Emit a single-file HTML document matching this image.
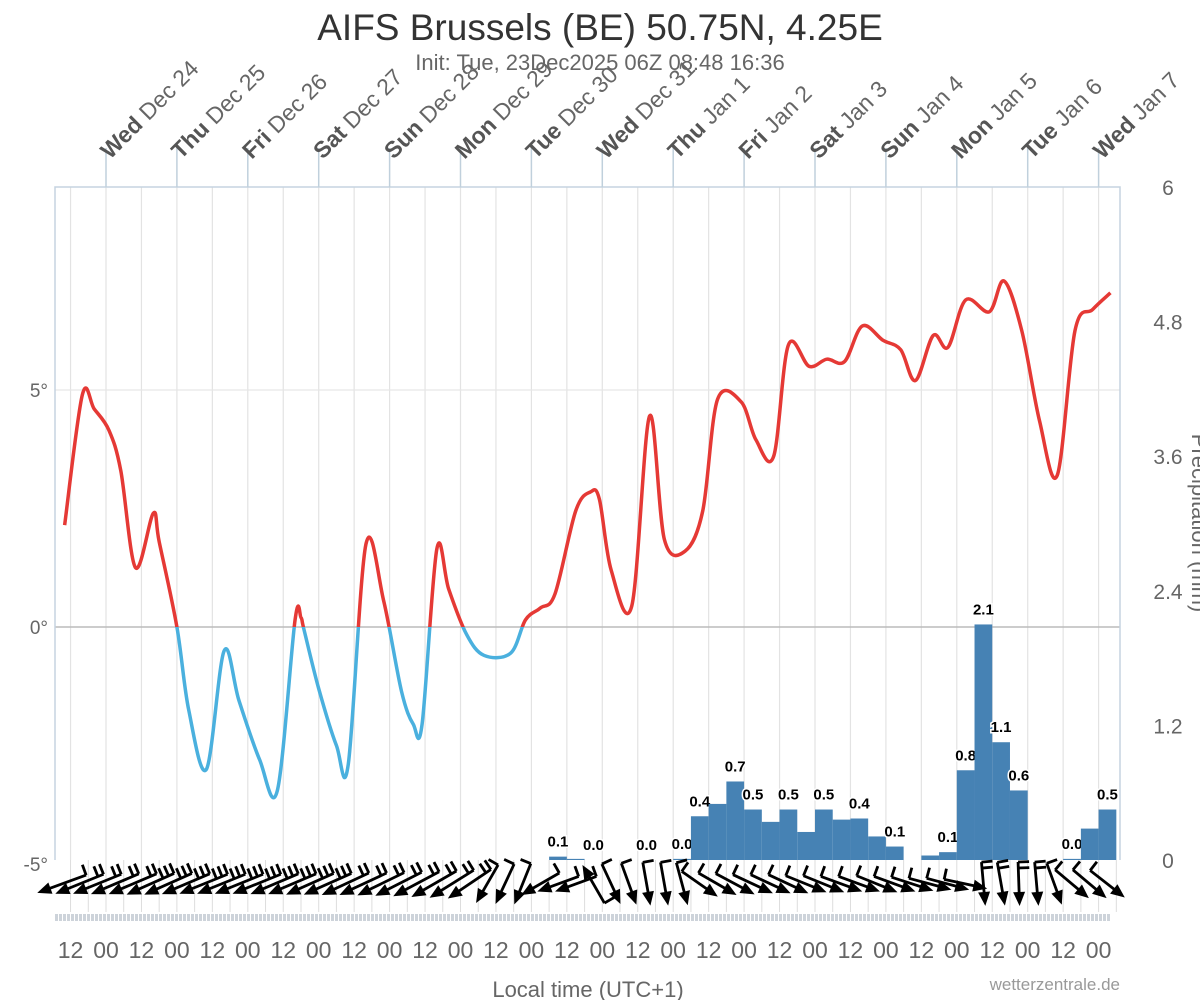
<!DOCTYPE html>
<html><head><meta charset="utf-8"><style>
html,body{margin:0;padding:0;background:#fff;}
svg{display:block;font-family:"Liberation Sans","DejaVu Sans",sans-serif;}
</style></head><body>
<svg id="chart" width="1200" height="1000" viewBox="0 0 1200 1000">
<text x="600" y="40" text-anchor="middle" font-size="37" fill="#333">AIFS Brussels (BE) 50.75N, 4.25E</text>
<text x="600" y="70" text-anchor="middle" font-size="22" fill="#666">Init: Tue, 23Dec2025 06Z 08:48 16:36</text>
<g id="grid"></g>
<g id="bars"></g>
<g id="temp"></g>
<g id="wind"></g>
<g id="axes"></g>
<text x="588" y="997" text-anchor="middle" font-size="22" fill="#666">Local time (UTC+1)</text>
<text x="1120" y="990" text-anchor="end" font-size="17" fill="#999">wetterzentrale.de</text>
<text transform="translate(1192,523) rotate(90)" text-anchor="middle" font-size="22" fill="#666">Precipitation (mm)</text>
</svg>
<script>
const dayLabels=["Wed|Dec 24","Thu|Dec 25","Fri|Dec 26","Sat|Dec 27","Sun|Dec 28","Mon|Dec 29","Tue|Dec 30","Wed|Dec 31","Thu|Jan 1","Fri|Jan 2","Sat|Jan 3","Sun|Jan 4","Mon|Jan 5","Tue|Jan 6","Wed|Jan 7"];
const tempHours=[-14,-8,-4,1,5,10,16,18,24,28,34,40,45,52,58,64,66,67,72,78,82,88,94,100,104,107,112,116,122,128,137,142,147,152,159,164,167,171,178,184,189,196,202,207,215,220,226,231,238,244,250,256,263,269,274,280,285,291,299,304,310,316,322,328,334,340];
const tempValues=[2.15,4.9,4.6,4.15,3.3,1.25,2.4,1.8,0,-1.75,-3.0,-0.5,-1.55,-2.8,-3.45,0.15,0.2,-0.05,-1.3,-2.5,-2.9,1.75,0.55,-1.35,-2.05,-2.05,1.65,0.8,-0.15,-0.6,-0.55,0.15,0.4,0.7,2.45,2.85,2.7,1.2,0.45,4.45,1.85,1.6,2.45,4.8,4.75,3.95,3.6,5.95,5.5,5.65,5.6,6.35,6.05,5.85,5.2,6.15,5.9,6.9,6.65,7.3,6.25,4.35,3.2,6.25,6.7,7.05];
const precipStart=150;
const precipValues=[0.03,0.01,0,0,0,0,0,0.01,0.39,0.5,0.7,0.45,0.34,0.45,0.25,0.45,0.36,0.37,0.21,0.12,0,0.04,0.07,0.8,2.1,1.05,0.62,0,0,0.01,0.28,0.45];
const precipLabels=["0.1","","0.0","","","0.0","","0.0","0.4","","0.7","0.5","","0.5","","0.5","","0.4","","0.1","","","0.1","0.8","2.1","1.1","0.6","","","0.0","","0.5"];
const windStart=-15;
const windAngles=[160,158,158,157,157,156,156,157,158,158,158,158,157,157,156,156,155,155,154,153,152,150,148,146,120,115,112,150,160,160,240,65,70,80,80,75,35,30,28,25,25,25,22,22,20,20,22,20,18,15,15,12,85,80,88,85,70,40,40,38];
const windBarbs=[1,2,2,2,2,3,3,3,3,3,3,3,3,3,3,3,2,2,2,2,2,2,2,2,1,1,1,1,1,1,1,1,1,1,1,1,1,1,1,1,1,1,1,1,1,1,1,1,1,1,1,1,2,2,2,2,1,1,1,1];
const tempTicks=[5,0,-5];
const precipTicks=[6,4.8,3.6,2.4,1.2,0];

const NS="http://www.w3.org/2000/svg";
const L=55,R=1120,T=187,B=860;
const x=h=>106+h*70.9/24;
const yT=t=>627-t*47.4;
const yP=p=>B-p*(B-T)/6;
function mk(tag,attrs,parent){const e=document.createElementNS(NS,tag);for(const k in attrs)e.setAttribute(k,attrs[k]);parent.appendChild(e);return e;}
const grid=document.getElementById('grid'),axes=document.getElementById('axes');
for(let h=-12;h<=336;h+=12){const gl=mk('line',{x1:x(h),x2:x(h),y1:T,y2:B,stroke:'#e3e3e3','stroke-width':1.2},grid);

}
for(let h=-12;h<=342;h+=6){const gl=mk('line',{x1:x(h),x2:x(h),y1:B,y2:912,stroke:'#ddd','stroke-width':1},grid);

}
for(let px=L;px<1108;px+=4){const s=mk('rect',{x:px,y:914,width:3,height:7,fill:'#cdd3da'},grid);

}
const hl5=mk('line',{x1:L,x2:R,y1:yT(5),y2:yT(5),stroke:'#e6e6e6','stroke-width':1.2},grid);


const bd=mk('path',{d:`M${L},${B} L${L},${T} L${R},${T} L${R},${B}`,fill:'none',stroke:'#c5d3e0','stroke-width':1.5},axes);


dayLabels.forEach((d,i)=>{const xx=x(i*24);
const tl=mk('line',{x1:xx,x2:xx,y1:148,y2:T,stroke:'#c0d0dc','stroke-width':1.5},axes);


const [a,b]=d.split('|');
const tx=mk('text',{transform:`translate(${xx+4},${160}) rotate(-45)`,'font-size':23,fill:'#666'},axes);


const t1=mk('tspan',{'font-weight':'bold',fill:'#555'},tx);t1.textContent=a;
const t2=mk('tspan',{},tx);t2.textContent=' '+b;});
for(let h=-12;h<=336;h+=12){const t=mk('text',{x:x(h),y:958,'text-anchor':'middle','font-size':23,fill:'#666'},axes);


t.textContent=((h%24)+24)%24===12?'12':'00';}
tempTicks.forEach(v=>{const t=mk('text',{x:48,y:yT(v)+7,'text-anchor':'end','font-size':19,fill:'#666'},axes);


t.textContent=v+'°';});
precipTicks.forEach(v=>{const t=mk('text',{x:1168,y:yP(v)+8,'text-anchor':'middle','font-size':21,fill:'#666'},axes);


t.textContent=v;});
const bars=document.getElementById('bars');
precipValues.forEach((v,i)=>{const x0=x(precipStart+i*6),x1=x(precipStart+i*6+6);
if(v>0){const r=mk('rect',{x:x0,y:yP(v),width:x1-x0,height:B-yP(v),fill:'#4682b4'},bars);

}
if(precipLabels[i]){const t=mk('text',{x:(x0+x1)/2,y:yP(v)-10,'text-anchor':'middle','font-size':15,'font-weight':'bold',fill:'#000',stroke:'#fff','stroke-width':3,'paint-order':'stroke'},bars);


t.textContent=precipLabels[i];}});
const zl=mk('line',{x1:L,x2:R,y1:yT(0),y2:yT(0),stroke:'#bbb','stroke-width':1.5},grid);


const pts=tempHours.map((h,i)=>[x(h),yT(tempValues[i])]);
let d=`M${pts[0][0]},${pts[0][1]}`;
for(let i=0;i<pts.length-1;i++){const p0=pts[Math.max(0,i-1)],p1=pts[i],p2=pts[i+1],p3=pts[Math.min(pts.length-1,i+2)];
d+=` C${p1[0]+(p2[0]-p0[0])/6},${p1[1]+(p2[1]-p0[1])/6} ${p2[0]-(p3[0]-p1[0])/6},${p2[1]-(p3[1]-p1[1])/6} ${p2[0]},${p2[1]}`;}
const tg=document.getElementById('temp');
const defs=mk('defs',{},tg);
const c1=mk('clipPath',{id:'above'},defs);mk('rect',{x:0,y:0,width:1200,height:yT(0)},c1);
const c2=mk('clipPath',{id:'below'},defs);mk('rect',{x:0,y:yT(0),width:1200,height:600},c2);
const pa=mk('path',{d,fill:'none',stroke:'#e53935','stroke-width':3.5,'clip-path':'url(#above)'},tg);


const pb=mk('path',{d,fill:'none',stroke:'#4ab0de','stroke-width':3.5,'clip-path':'url(#below)'},tg);


const wg=document.getElementById('wind');
windAngles.forEach((a,i)=>{const cx=x(windStart+i*6),cy=884,len=i<24?52:44;
const r=a*Math.PI/180,dx=Math.cos(r),dy=Math.sin(r);
const hx=cx+dx*len/2,hy=cy+dy*len/2,tx=cx-dx*len/2,ty=cy-dy*len/2;
const g=mk('g',{},wg);


mk('line',{x1:tx,y1:ty,x2:hx-dx*8,y2:hy-dy*8,stroke:'#000','stroke-width':2.8},g);
const px=-dy,py=dx;
mk('polygon',{points:`${hx},${hy} ${hx-dx*14+px*6},${hy-dy*14+py*6} ${hx-dx*14-px*6},${hy-dy*14-py*6}`,fill:'#000'},g);
const side=(dx<0)?1:-1;
for(let k=0;k<windBarbs[i];k++){const bx=tx+dx*k*6,by=ty+dy*k*6;
mk('line',{x1:bx,y1:by,x2:bx+px*side*11,y2:by+py*side*11,stroke:'#000','stroke-width':2.8},g);}
});
</script>
</body></html>
